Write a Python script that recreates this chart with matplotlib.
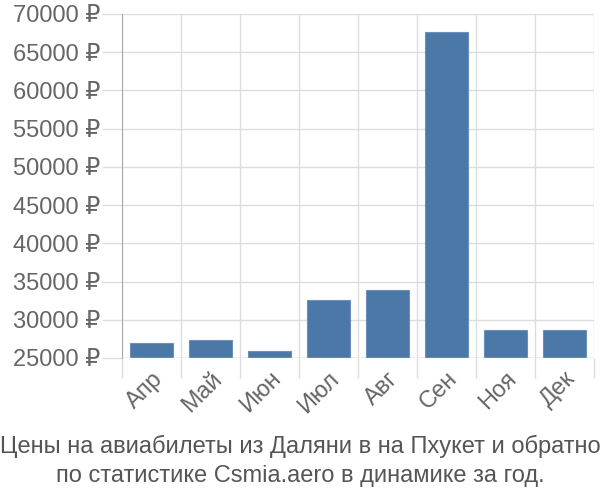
import numpy as np
import matplotlib.pyplot as plt
from matplotlib.ticker import FixedLocator

plt.rcParams['font.family'] = ['Liberation Sans', 'DejaVu Sans']

months = ['Апр', 'Май', 'Июн', 'Июл', 'Авг', 'Сен', 'Ноя', 'Дек']
prices = [26900, 27400, 25900, 32600, 33900, 67600, 28700, 28700]
yticks = [25000, 30000, 35000, 40000, 45000, 50000, 55000, 60000, 65000, 70000]
title = 'Цены на авиабилеты из Даляни в на Пхукет и обратно\nпо статистике Csmia.aero в динамике за год.'

fig = plt.figure(figsize=(6, 5), dpi=100)
ax = fig.add_axes([122/600, 1 - 358/500, 472/600, 344/500])

x = np.arange(len(months))
ax.bar(x, np.array(prices) - 25000, bottom=25000, width=0.72,
       color='#4c78a8', edgecolor='#6a8fbd', linewidth=0.8, zorder=3)

ax.set_xlim(-0.5, len(months) - 0.5)
ax.set_ylim(25000, 70000)

# labels at the centres, grid lines / ticks at category boundaries
ax.set_xticks(x)
ax.set_xticklabels(months, rotation=45, ha='right', rotation_mode='anchor')
ax.xaxis.set_minor_locator(FixedLocator(np.arange(len(months) + 1) - 0.5))
ax.tick_params(axis='x', which='major', length=0, pad=7, labelsize=17, labelcolor='#666666')
ax.tick_params(axis='x', which='minor', length=14.4, color='#dddddd', width=1)
ax.grid(axis='x', which='minor', color='#dddddd', linewidth=1, zorder=0)

ax.set_yticks(yticks)
ax.set_yticklabels([f'{v} ₽' for v in yticks])
ax.tick_params(axis='y', length=14.4, color='#dddddd', width=1, pad=1.5, labelsize=17, labelcolor='#666666')
ax.grid(axis='y', color='#dddddd', linewidth=1, zorder=0)

for s in ['top', 'right', 'bottom']:
    ax.spines[s].set_visible(False)
ax.spines['left'].set_color('#aaaaaa')
ax.spines['left'].set_bounds(25000, 70000)
ax.axhline(25000, color='#cccccc', linewidth=1, zorder=4)

fig.text(0.5, 1 - 461/500, title, ha='center', va='center', fontsize=17,
         color='#555555', linespacing=1.45)

fig.savefig('out.png', dpi=100)
